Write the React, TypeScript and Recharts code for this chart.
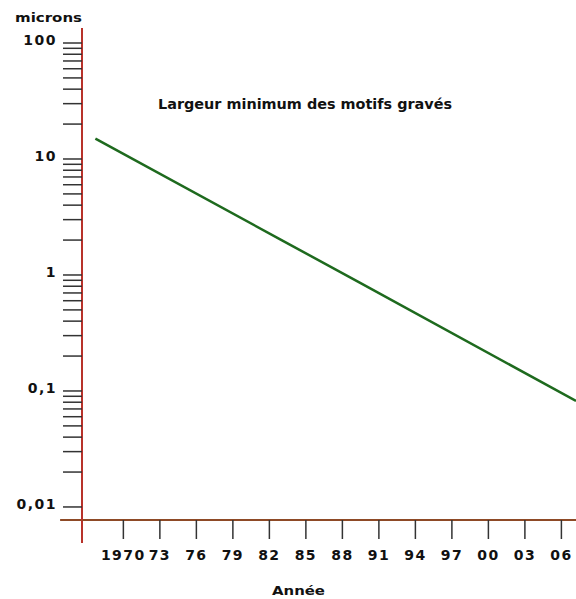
import { LineChart, Line, XAxis, YAxis, ReferenceLine } from 'recharts';

// valeurs (échelle log)
const years = [1967.7, 1983, 1989.5, 2007.2];
const widths = [15, 2.0, 0.85, 0.082];

const yearTicks = [1970, 1973, 1976, 1979, 1982, 1985, 1988, 1991, 1994, 1997, 2000, 2003, 2006];
const yearLabels = ['1970', '73', '76', '79', '82', '85', '88', '91', '94', '97', '00', '03', '06'];

const micronTicks = [
  0.01, 0.02, 0.03, 0.04, 0.05, 0.06, 0.07, 0.08, 0.09,
  0.1, 0.2, 0.3, 0.4, 0.5, 0.6, 0.7, 0.8, 0.9,
  1, 2, 3, 4, 5, 6, 7, 8, 9,
  10, 20, 30, 40, 50, 60, 70, 80, 90,
  100,
];
const decadeValues = [0.01, 0.1, 1, 10, 100];
const decadeLabels = ['0,01', '0,1', '1', '10', '100'];

const data = years.map((year, i) => ({ year, width: widths[i] }));

const FONT = '"DejaVu Sans", Verdana, sans-serif';
const RED = '#b8322a';
const BROWN = '#8e4a26';
const TICK = '#333';

const X_MIN = 1966.6;
const X_MAX = 2007.2;
const Y_MIN = 0.00772;
const Y_MAX = 134.7;

function YearTick({ x, y, payload }: any) {
  const i = yearTicks.indexOf(payload.value);
  return (
    <text x={x} y={y + 19} textAnchor="middle" fontFamily={FONT} fontWeight="bold" fontSize={14} letterSpacing={1.5} fill="#111">
      {yearLabels[i]}
    </text>
  );
}

function MicronTick({ x, y, payload }: any) {
  const i = decadeValues.findIndex((v) => Math.abs(v - payload.value) < 1e-9);
  if (i < 0) return null;
  return (
    <text x={x} y={y - 3} textAnchor="end" dominantBaseline="central" fontFamily={FONT} fontWeight="bold" fontSize={14} letterSpacing={1.5} fill="#111">
      {decadeLabels[i]}
    </text>
  );
}

export default function App() {
  return (
    <div style={{ position: 'absolute', left: 0, top: 0, width: 576, height: 599, background: '#fff' }}>
      <LineChart width={576} height={599} data={data} margin={{ top: 28, right: 0, bottom: 0, left: 0 }}>
        <XAxis
          type="number"
          dataKey="year"
          domain={[X_MIN, X_MAX]}
          allowDataOverflow
          ticks={yearTicks}
          interval={0}
          height={79}
          tickSize={19}
          tickMargin={2}
          axisLine={{ stroke: BROWN, strokeWidth: 2 }}
          tickLine={{ stroke: TICK, strokeWidth: 1.5 }}
          tick={<YearTick />}
        />
        <YAxis
          type="number"
          scale="log"
          domain={[Y_MIN, Y_MAX]}
          allowDataOverflow
          ticks={micronTicks}
          interval={0}
          width={82}
          tickSize={19}
          tickMargin={6}
          axisLine={{ stroke: RED, strokeWidth: 2 }}
          tickLine={{ stroke: TICK, strokeWidth: 1.5 }}
          tick={<MicronTick />}
        />
        <ReferenceLine
          segment={[{ x: 1964.8, y: Y_MIN }, { x: X_MIN, y: Y_MIN }]}
          stroke={BROWN}
          strokeWidth={2}
          ifOverflow="visible"
        />
        <ReferenceLine
          segment={[{ x: X_MIN, y: Y_MIN }, { x: X_MIN, y: 0.00489 }]}
          stroke={RED}
          strokeWidth={2}
          ifOverflow="visible"
        />
        <Line
          type="linear"
          dataKey="width"
          stroke="#1e6a1e"
          strokeWidth={2.5}
          dot={false}
          isAnimationActive={false}
        />
        <text x={15} y={22} textLength={67} lengthAdjust="spacingAndGlyphs" fontFamily={FONT} fontWeight="bold" fontSize={13} fill="#111">
          microns
        </text>
        <text x={158} y={109} textLength={294} lengthAdjust="spacingAndGlyphs" fontFamily={FONT} fontWeight="bold" fontSize={14} fill="#111">
          Largeur minimum des motifs gravés
        </text>
        <text x={272} y={595} textLength={53} lengthAdjust="spacingAndGlyphs" fontFamily={FONT} fontWeight="bold" fontSize={13} fill="#111">
          Année
        </text>
      </LineChart>
    </div>
  );
}
